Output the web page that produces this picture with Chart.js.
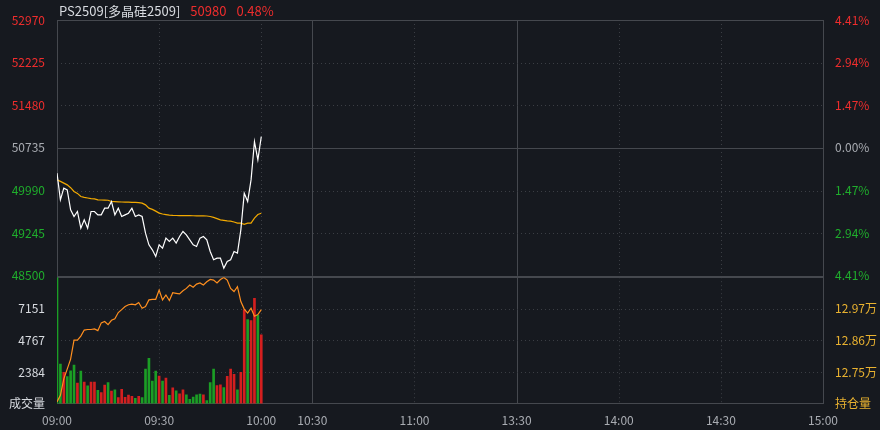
<!DOCTYPE html>
<html>
<head>
<meta charset="utf-8">
<script src="https://cdn.jsdelivr.net/npm/chart.js@4"></script>
<style>
  body { margin: 0; background: #16191f; width: 880px; height: 430px; overflow: hidden; font-family: "Noto Sans CJK SC", "Noto Sans", sans-serif; }
  #head { position: absolute; left: 59px; top: 1px; font-size: 13px; color: #d8dbe0; white-space: nowrap; }
  #head span.r { color: #ef2d2d; margin-left: 10px; }
  #top { position: absolute; left: 0; top: 0; width: 880px; height: 287px; }
  #bot { position: absolute; left: 0; top: 266px; width: 880px; height: 164px; }
</style>
</head>
<body>
<div id="bot"><canvas id="volChart"></canvas></div>
<div id="top"><canvas id="priceChart"></canvas></div>
<div id="head">PS2509[多晶硅2509]<span class="r">50980</span><span class="r">0.48%</span></div>
<script>
// minute index from 09:00 (0..225 trading minutes)
const prevClose = 50735;
const priceTicks = [48500, 49245, 49990, 50735, 51480, 52225, 52970];
const timeTickPos = [0, 30, 60, 75, 105, 135, 165, 195, 225];
const timeTickLabels = ['09:00', '09:30', '10:00', '10:30', '11:00', '13:30', '14:00', '14:30', '15:00'];
const solidTimeLines = [75, 135];
const volTicks = [0, 2384, 4767, 7151];
const oiTicks = [12.64, 12.75, 12.86, 12.97];

const price = [50293, 49827, 50031, 50002, 49653, 49536, 49624, 49333, 49478, 49333,
  49624, 49624, 49565, 49565, 49682, 49682, 49798, 49565, 49682, 49536,
  49565, 49594, 49682, 49536, 49565, 49536, 49245, 49041, 48954, 48838,
  49041, 48983, 49158, 49100, 49158, 49071, 49187, 49274, 49216, 49129,
  49041, 49012, 49158, 49187, 49129, 48925, 48780, 48809, 48809, 48634,
  48751, 48780, 48925, 48896, 49303, 49944, 49798, 50176, 50846, 50526, 50933];
const avgPrice = [50176, 50150, 50120, 50089, 50040, 49973, 49940, 49885, 49870, 49860,
  49850, 49845, 49827, 49825, 49822, 49820, 49798, 49795, 49793, 49790,
  49788, 49786, 49784, 49782, 49780, 49769, 49740, 49682, 49660, 49630,
  49595, 49580, 49570, 49560, 49555, 49554, 49553, 49552, 49551, 49550,
  49549, 49548, 49547, 49546, 49545, 49536, 49520, 49500, 49478, 49470,
  49460, 49455, 49440, 49420, 49420, 49400, 49420, 49420, 49507, 49570, 49594];
const volume = [9500, 2980, 2360, 2040, 2480, 2900, 1540, 2460, 1630, 1350,
  1630, 1630, 1000, 840, 1390, 1590, 940, 1030, 460, 1080,
  480, 640, 540, 400, 540, 460, 2600, 3410, 1700, 2460,
  2080, 1700, 1930, 620, 1190, 970, 740, 1040, 670, 320,
  490, 670, 720, 670, 220, 1590, 2600, 1360, 1410, 1210,
  2060, 2600, 2200, 1040, 2360, 7078, 6330, 6260, 7950, 6650, 5190];
const volUp = [0, 0, 1, 0, 0, 0, 1, 0, 1, 0,
  1, 1, 0, 1, 1, 0, 1, 0, 1, 1,
  1, 1, 1, 0, 1, 0, 0, 0, 0, 0,
  1, 0, 1, 0, 1, 0, 1, 1, 0, 0,
  0, 0, 0, 1, 0, 0, 0, 1, 1, 0,
  1, 1, 1, 0, 1, 1, 0, 1, 1, 0, 1];
const openInterest = [12.646, 12.669, 12.726, 12.760, 12.795, 12.861, 12.861, 12.875, 12.896, 12.898,
  12.898, 12.900, 12.894, 12.921, 12.926, 12.915, 12.930, 12.935, 12.957, 12.967,
  12.978, 12.984, 12.986, 12.984, 12.992, 12.972, 12.978, 13.001, 13.003, 13.003,
  13.035, 13.001, 13.018, 12.999, 13.026, 13.024, 13.022, 13.033, 13.041, 13.053,
  13.045, 13.056, 13.060, 13.053, 13.064, 13.072, 13.070, 13.060, 13.072, 13.079,
  13.070, 13.041, 13.030, 13.047, 12.995, 12.969, 12.955, 12.972, 12.944, 12.950, 12.967];

const RED = '#ef2d2d', GREEN = '#1fae2c', GREY = '#a9acb2', GRID = '#3b3e44', FRAME = '#45484e';
const FONT = { family: '"Noto Sans CJK SC", "Noto Sans", sans-serif', size: 12 };
const pts = arr => arr.map((v, i) => ({ x: i, y: v }));

// grid drawn from the scales: dotted lines, a few solid ones
const gridPlugin = {
  id: 'grid',
  beforeDatasetsDraw(chart, args, opts) {
    const { ctx, chartArea: a, scales } = chart;
    ctx.save();
    ctx.lineWidth = 1;
    const line = (x1, y1, x2, y2, solid) => {
      ctx.strokeStyle = solid ? FRAME : GRID;
      ctx.setLineDash(solid ? [] : [1, 3]);
      ctx.beginPath(); ctx.moveTo(x1, y1); ctx.lineTo(x2, y2); ctx.stroke();
    };
    timeTickPos.forEach(t => {
      if (t === 0 || t === 225) return;
      const x = Math.round(scales.x.getPixelForValue(t)) + 0.5;
      line(x, a.top, x, a.bottom, solidTimeLines.includes(t));
    });
    opts.hLines.forEach(v => {
      const y = Math.round(scales.y.getPixelForValue(v)) + 0.5;
      line(a.left, y, a.right, y, v === opts.solid);
    });
    ctx.setLineDash([]);
    ctx.strokeStyle = FRAME;
    ctx.strokeRect(Math.round(a.left) + 0.5, Math.round(a.top) + 0.5, Math.round(a.right - a.left), Math.round(a.bottom - a.top));
    ctx.restore();
  }
};

const fixWidth = s => { s.width = 57; };
const xScale = show => ({
  type: 'linear', min: 0, max: 225, display: show, offset: false,
  afterBuildTicks: s => { s.ticks = timeTickPos.map(v => ({ value: v })); },
  ticks: { color: GREY, font: FONT, maxRotation: 0, autoSkip: false, padding: 2,
    callback: v => timeTickLabels[timeTickPos.indexOf(v)] },
  grid: { display: false }, border: { display: false }
});
const priceColor = v => v > prevClose ? RED : (v < prevClose ? GREEN : GREY);

new Chart(document.getElementById('priceChart'), {
  type: 'line',
  data: { datasets: [
    { data: pts(price), borderColor: '#ffffff', borderWidth: 1.2, pointRadius: 0, tension: 0, yAxisID: 'y' },
    { data: pts(avgPrice), borderColor: '#f2a900', borderWidth: 1.2, pointRadius: 0, tension: 0, yAxisID: 'y' }
  ] },
  plugins: [gridPlugin],
  options: {
    responsive: true, maintainAspectRatio: false, animation: false,
    layout: { padding: { top: 20, bottom: 1 } },
    plugins: { legend: { display: false }, tooltip: { enabled: false },
      grid: { hLines: priceTicks, solid: prevClose } },
    scales: {
      x: xScale(false),
      y: { position: 'left', min: 48500, max: 52970, afterFit: fixWidth,
        afterBuildTicks: s => { s.ticks = priceTicks.map(v => ({ value: v })); },
        ticks: { font: FONT, padding: 4, color: c => priceColor(c.tick.value), callback: v => String(v) },
        grid: { display: false }, border: { display: false } },
      y2: { position: 'right', min: 48500, max: 52970, afterFit: fixWidth,
        afterBuildTicks: s => { s.ticks = priceTicks.map(v => ({ value: v })); },
        ticks: { font: FONT, padding: 4, color: c => priceColor(c.tick.value),
          callback: v => (Math.abs(v - prevClose) / prevClose * 100).toFixed(2) + '%' },
        grid: { display: false }, border: { display: false } }
    }
  }
});

new Chart(document.getElementById('volChart'), {
  type: 'bar',
  data: { datasets: [
    { type: 'line', data: pts(openInterest), borderColor: '#ff8f1f', borderWidth: 1.2, pointRadius: 0, tension: 0, yAxisID: 'y2' },
    { data: pts(volume), backgroundColor: volUp.map(u => u ? '#d41f1f' : '#1b9e25'), barThickness: 2, yAxisID: 'y' }
  ] },
  plugins: [gridPlugin],
  options: {
    responsive: true, maintainAspectRatio: false, animation: false,
    layout: { padding: { top: 0 } },
    plugins: { legend: { display: false }, tooltip: { enabled: false },
      grid: { hLines: volTicks.slice(1), solid: null } },
    scales: {
      x: xScale(true),
      y: { position: 'left', min: 0, max: 9536, afterFit: fixWidth,
        afterBuildTicks: s => { s.ticks = volTicks.map(v => ({ value: v })); },
        ticks: { font: FONT, padding: 4, color: '#d8dbe0', callback: v => v === 0 ? '成交量' : String(v) },
        grid: { display: false }, border: { display: false } },
      y2: { position: 'right', min: 12.64, max: 13.08, afterFit: fixWidth,
        afterBuildTicks: s => { s.ticks = oiTicks.map(v => ({ value: v })); },
        ticks: { font: FONT, padding: 4, color: '#e9b230', callback: v => v === 12.64 ? '持仓量' : v.toFixed(2) + '万' },
        grid: { display: false }, border: { display: false } }
    }
  }
});
</script>
</body>
</html>
